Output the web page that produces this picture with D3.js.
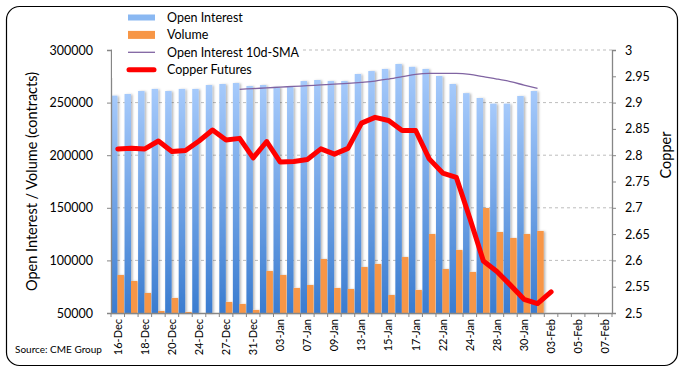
<!DOCTYPE html>
<html>
<head>
<meta charset="utf-8">
<script src="https://cdn.jsdelivr.net/npm/d3@7"></script>
<style>
  body { margin: 0; background: #fff; }
  svg text { font-family: Lato, "Open Sans", sans-serif; fill: #000; }
</style>
</head>
<body>
<div id="chart"></div>
<script>
// trading days on the category axis
var dates = ['16-Dec','17-Dec','18-Dec','19-Dec','20-Dec','23-Dec','24-Dec','26-Dec','27-Dec','30-Dec','31-Dec',
  '02-Jan','03-Jan','06-Jan','07-Jan','08-Jan','09-Jan','10-Jan','13-Jan','14-Jan','15-Jan','16-Jan','17-Jan',
  '21-Jan','22-Jan','23-Jan','24-Jan','27-Jan','28-Jan','29-Jan','30-Jan','31-Jan',
  '03-Feb','04-Feb','05-Feb','06-Feb','07-Feb'];

var openInterest = [256600, 258200, 261000, 263000, 261000, 263000, 263000, 266700, 267700, 268600, 265800,
  266700, 265000, 265000, 270500, 271500, 270500, 270500, 277200, 280000, 282000, 286700, 284000,
  282000, 275300, 267700, 259000, 254400, 249000, 249000, 256300, 261000];

var volume = [86100, 80400, 69000, 51900, 64300, 51000, 38000, 42000, 60500, 58600, 52900,
  89900, 86100, 73800, 76600, 101300, 73800, 72800, 93700, 96600, 67100, 103200, 71900,
  125100, 91800, 109900, 89000, 149800, 127000, 121300, 125100, 128000];

var oiSma10 = [null, null, null, null, null, null, null, null, null, 262600, 263300,
  264000, 264700, 265400, 266100, 266800, 267500, 268300, 269300, 270500, 272400, 274600, 276900,
  277800, 277800, 277800, 276900, 274600, 272400, 269900, 266700, 263600];

var copper = [2.812, 2.813, 2.812, 2.827, 2.807, 2.809, 2.827, 2.848, 2.829, 2.832, 2.795,
  2.826, 2.787, 2.788, 2.792, 2.812, 2.802, 2.813, 2.861, 2.872, 2.866, 2.847, 2.847,
  2.793, 2.766, 2.758, 2.680, 2.599, 2.579, 2.553, 2.526, 2.518, 2.540];

var leftTicks = [50000, 100000, 150000, 200000, 250000, 300000];
var rightTicks = [2.5, 2.55, 2.6, 2.65, 2.7, 2.75, 2.8, 2.85, 2.9, 2.95, 3];

var W = 687, H = 375;
var plot = {left: 111, right: 612, top: 50, bottom: 313};

var svg = d3.select("#chart").append("svg")
    .attr("width", W)
    .attr("height", H);

var defs = svg.append("defs");
var grad = defs.append("linearGradient")
    .attr("id", "oiGrad")
    .attr("x1", 0).attr("y1", 0).attr("x2", 0).attr("y2", 1);
grad.append("stop").attr("offset", "0%").attr("stop-color", "#a6cafb");
grad.append("stop").attr("offset", "100%").attr("stop-color", "#3a7cd0");

var shadow = defs.append("filter")
    .attr("id", "shadow")
    .attr("x", "-50%").attr("y", "-5%").attr("width", "200%").attr("height", "110%");
shadow.append("feDropShadow")
    .attr("dx", 1.5).attr("dy", 0.5)
    .attr("stdDeviation", 0.8)
    .attr("flood-color", "#000")
    .attr("flood-opacity", 0.3);

// outer frame
svg.append("rect")
    .attr("x", 6.5).attr("y", 6.5)
    .attr("width", 671).attr("height", 359)
    .attr("rx", 13)
    .attr("fill", "none")
    .attr("stroke", "#000")
    .attr("stroke-width", 1.2);

// scales
var x = d3.scaleBand()
    .domain(dates)
    .range([plot.left, plot.right])
    .padding(0);

var sub = d3.scaleBand()
    .domain(["oi", "vol"])
    .range([0, x.bandwidth() - 0.6]);

var y = d3.scaleLinear()
    .domain([50000, 300000])
    .range([plot.bottom, plot.top])
    .clamp(true);

var yr = d3.scaleLinear()
    .domain([2.5, 3])
    .range([plot.bottom, plot.top]);

// grid
svg.append("g")
    .selectAll("line")
    .data(leftTicks.slice(1))
  .enter().append("line")
    .attr("x1", plot.left).attr("x2", plot.right)
    .attr("y1", function(d) { return y(d); })
    .attr("y2", function(d) { return y(d); })
    .attr("stroke", "#bdbdbd")
    .attr("stroke-width", 1)
    .attr("stroke-dasharray", "3,3");

// bars
var bars = svg.append("g").attr("filter", "url(#shadow)");

bars.selectAll("rect.oi")
    .data(openInterest)
  .enter().append("rect")
    .attr("class", "oi")
    .attr("x", function(d, i) { return x(dates[i]) + sub("oi"); })
    .attr("y", function(d) { return y(d); })
    .attr("width", sub.bandwidth())
    .attr("height", function(d) { return plot.bottom - y(d); })
    .attr("fill", "url(#oiGrad)");

bars.selectAll("rect.vol")
    .data(volume)
  .enter().append("rect")
    .attr("class", "vol")
    .attr("x", function(d, i) { return x(dates[i]) + sub("vol"); })
    .attr("y", function(d) { return y(d); })
    .attr("width", sub.bandwidth())
    .attr("height", function(d) { return plot.bottom - y(d); })
    .attr("fill", "#f79646");

var cx = function(d, i) { return x(dates[i]) + x.bandwidth() / 2; };

// 10 day SMA of open interest
var smaLine = d3.line()
    .defined(function(d) { return d != null; })
    .x(cx)
    .y(function(d) { return y(d); })
    .curve(d3.curveMonotoneX);

svg.append("path")
    .datum(oiSma10)
    .attr("d", smaLine)
    .attr("fill", "none")
    .attr("stroke", "#8064a2")
    .attr("stroke-width", 1.3);

// copper price
var copperLine = d3.line()
    .x(cx)
    .y(function(d) { return yr(d); });

svg.append("path")
    .datum(copper)
    .attr("d", copperLine)
    .attr("fill", "none")
    .attr("stroke", "#ff0000")
    .attr("stroke-width", 5)
    .attr("stroke-linejoin", "round")
    .attr("stroke-linecap", "round");

// axes
var axisColor = "#868686";

var gl = svg.append("g")
    .attr("transform", "translate(" + plot.left + ",0)")
    .call(d3.axisLeft(y).tickValues(leftTicks).tickSize(4).tickPadding(14).tickFormat(d3.format("d")));

var gr = svg.append("g")
    .attr("transform", "translate(" + plot.right + ",0)")
    .call(d3.axisRight(yr).tickValues(rightTicks).tickSize(4).tickPadding(9)
      .tickFormat(function(d) { return d3.format("")(+d.toFixed(2)); }));

var gx = svg.append("g")
    .attr("transform", "translate(0," + plot.bottom + ")")
    .call(d3.axisBottom(x).tickSize(0).tickPadding(0)
      .tickValues(dates.filter(function(d, i) { return i % 2 === 0; })));

gx.selectAll(".tick text")
    .attr("transform", "rotate(-90)")
    .attr("x", -6)
    .attr("y", 0)
    .attr("dy", "0.35em")
    .style("text-anchor", "end")
    .style("font-size", "11px");

// category boundary ticks
gx.selectAll("line.bound")
    .data(dates.concat(["end"]))
  .enter().append("line")
    .attr("class", "bound")
    .attr("x1", function(d, i) { return plot.left + i * x.step(); })
    .attr("x2", function(d, i) { return plot.left + i * x.step(); })
    .attr("y1", 0).attr("y2", 4)
    .attr("stroke", axisColor);

[gl, gr, gx].forEach(function(g) {
  g.select(".domain").attr("stroke", axisColor).attr("stroke-width", 1.3);
  g.selectAll(".tick line").attr("stroke", axisColor);
});
gl.selectAll(".tick text").style("font-size", "12.5px");
gr.selectAll(".tick text").style("font-size", "12.5px");

// axis titles
svg.append("text")
    .attr("transform", "translate(37," + ((plot.top + plot.bottom) / 2) + ") rotate(-90)")
    .style("text-anchor", "middle")
    .style("font-size", "14.5px")
    .text("Open Interest / Volume (contracts)");

svg.append("text")
    .attr("transform", "translate(671,155) rotate(-90)")
    .style("text-anchor", "middle")
    .style("font-size", "14.5px")
    .text("Copper");

svg.append("text")
    .attr("x", 15).attr("y", 353)
    .style("font-size", "10px")
    .text("Source: CME Group");

// legend
var legend = svg.append("g");
legend.append("rect")
    .attr("x", plot.left + 1).attr("y", 8)
    .attr("width", 190).attr("height", 70)
    .attr("fill", "#fff");

var legendItems = ["Open Interest", "Volume", "Open Interest 10d-SMA", "Copper Futures"];
var rows = legend.selectAll("g.item")
    .data(legendItems)
  .enter().append("g")
    .attr("class", "item")
    .attr("transform", function(d, i) { return "translate(128," + (17.5 + i * 17.4) + ")"; });

rows.append("text")
    .attr("x", 39).attr("dy", "0.35em")
    .style("font-size", "12.5px")
    .text(function(d) { return d; });

rows.filter(function(d, i) { return i === 0; }).append("rect")
    .attr("x", 0).attr("y", -3).attr("width", 27).attr("height", 6)
    .attr("fill", "#8ab8f2");
rows.filter(function(d, i) { return i === 1; }).append("rect")
    .attr("x", 0).attr("y", -4).attr("width", 27).attr("height", 8)
    .attr("fill", "#f79646");
rows.filter(function(d, i) { return i === 2; }).append("line")
    .attr("x1", 0).attr("x2", 27)
    .attr("stroke", "#8064a2").attr("stroke-width", 1.3);
rows.filter(function(d, i) { return i === 3; }).append("line")
    .attr("x1", 1).attr("x2", 26)
    .attr("stroke", "#ff0000").attr("stroke-width", 5)
    .attr("stroke-linecap", "round");
</script>
</body>
</html>
